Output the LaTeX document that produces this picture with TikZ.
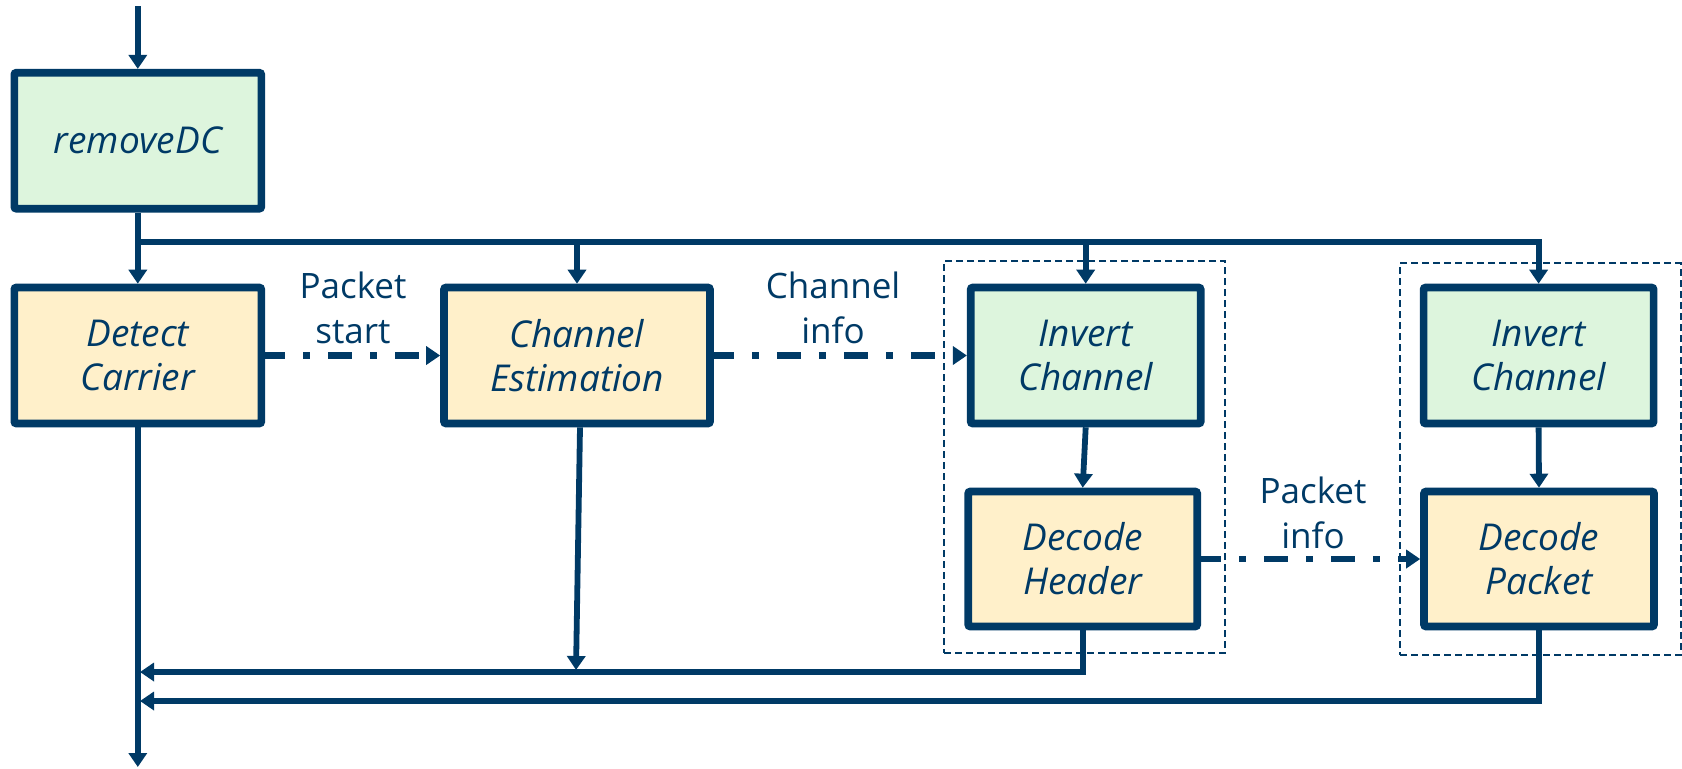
\documentclass[tikz,border=0pt]{standalone}
\usepackage{fontspec}
\setmainfont{Open Sans}
\usetikzlibrary{arrows.meta}
\definecolor{navy}{HTML}{003A66}
\definecolor{mint}{HTML}{DDF5DD}
\definecolor{cream}{HTML}{FFF0CA}

\begin{document}
\begin{tikzpicture}[x=0.5pt,y=-0.5pt,
  blk/.style={draw=navy, line width=3.8pt, rounded corners=1pt,
    minimum height=68pt, align=center, text=navy, inner sep=0pt,
    font=\fontsize{18.5}{22}\selectfont\itshape},
  grp/.style={draw=navy, line width=1pt, dash pattern=on 3.5pt off 2pt,
    inner sep=0pt},
  lbl/.style={text=navy, align=center, inner sep=0pt,
    font=\fontsize{17.5}{22.5}\selectfont},
  wire/.style={draw=navy, line width=2.9pt},
  arr/.style={wire, -{Triangle[length=7pt,width=9pt]}},
  darr/.style={draw=navy, line width=3.3pt,
    dash pattern=on 12pt off 9pt on 3.5pt off 9pt, dash phase=2pt,
    -{Triangle[length=7pt,width=9pt]}}
]
\useasboundingbox (0,0) rectangle (1682,768);

% dashed groupings
\node[grp, minimum width=140.5pt, minimum height=196pt] (g1) at (1084.5,457) {};
\node[grp, minimum width=140.25pt, minimum height=196pt] (g2) at (1540.25,459) {};

% processing blocks
\node[blk, fill=mint,  minimum width=123.5pt] (rdc) at (137.8,140.7) {removeDC};
\node[blk, fill=cream, minimum width=123.5pt] (dc)  at (137.8,355.5) {Detect\\Carrier};
\node[blk, fill=cream, minimum width=133pt]   (ce)  at (577,355.5)   {Channel\\Estimation};
\node[blk, fill=mint,  minimum width=115pt]   (ic1) at (1085.7,355.5) {Invert\\Channel};
\node[blk, fill=cream, minimum width=114.5pt, minimum height=67.5pt] (dh) at (1082.7,559) {Decode\\Header};
\node[blk, fill=mint,  minimum width=115pt]   (ic2) at (1538.6,355.5) {Invert\\Channel};
\node[blk, fill=cream, minimum width=115pt, minimum height=67.5pt] (dp) at (1539,559) {Decode\\Packet};

% edge labels
\node[lbl] (l1) at (353,308)  {Packet\\start};
\node[lbl] (l2) at (833,308)  {Channel\\info};
\node[lbl] (l3) at (1313,513) {Packet\\info};

% free ends and junctions
\coordinate (in)    at (137.8,6);
\coordinate (bus)   at (137.8,242);
\coordinate (out)   at (137.8,767);
\coordinate (r1)    at (140,672);
\coordinate (r2)    at (140,701);
\coordinate (cetip) at (576,670);

% input and sample bus
\draw[arr] (in) -- (rdc.north);
\draw[arr] (rdc.south) -- (dc.north);
\draw[wire] (bus) -- (bus -| ce.north);
\draw[arr] (bus -| ce.north) -- (ce.north);
\draw[wire] (bus -| ce.north) -- (bus -| ic1.north);
\draw[arr] (bus -| ic1.north) -- (ic1.north);
\draw[arr] (bus -| ic1.north) -- (bus -| ic2.north) -- (ic2.north);
\draw[arr] (ic1.south) -- (dh.north);
\draw[arr] (ic2.south) -- (dp.north);

% control information
\draw[darr] (dc.east) -- (ce.west);
\draw[darr] (ce.east) -- (ic1.west);
\draw[darr] (dh.east) -- (dp.west);

% outputs back to the main line
\draw[arr] (dc.south) -- (out);
\draw[arr] ([xshift=1.5pt]ce.south) -- (cetip);
\draw[arr] (dh.south) |- (r1);
\draw[arr] (dp.south) |- (r2);
\end{tikzpicture}
\end{document}
